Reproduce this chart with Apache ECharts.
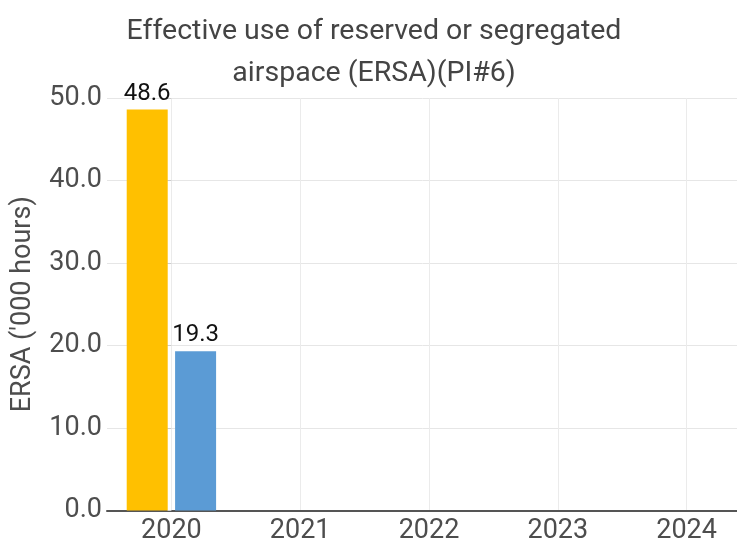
<!DOCTYPE html>
<html>
<head>
<meta charset="utf-8">
<script src="https://cdn.jsdelivr.net/npm/echarts@6/dist/echarts.min.js"></script>
<style>
  html, body { margin: 0; padding: 0; background: #fff; }
  #main { width: 737px; height: 542px; }
</style>
</head>
<body>
<div id="main"></div>
<script>
// data
var years = ['2020', '2021', '2022', '2023', '2024'];
var yellowValues = [48.6, '-', '-', '-', '-'];
var blueValues = [19.3, '-', '-', '-', '-'];
var yTicks = [0, 10, 20, 30, 40, 50];

var chart = echarts.init(document.getElementById('main'));

var option = {
  animation: false,
  textStyle: { fontFamily: 'Roboto' },
  title: {
    text: 'Effective use of reserved or segregated\nairspace (ERSA)(PI#6)',
    left: 369,
    top: 6,
    textAlign: 'center',
    textStyle: {
      fontFamily: 'Roboto',
      fontSize: 28.5,
      fontWeight: 'normal',
      color: '#444',
      lineHeight: 42
    }
  },
  grid: {
    left: 107, width: 644, top: 98, bottom: 31.5,
    containLabel: false,
    outerBoundsMode: 'none'
  },
  xAxis: [
    {
      type: 'category',
      data: years,
      boundaryGap: true,
      axisLine: { lineStyle: { color: '#555', width: 2 } },
      axisTick: { show: false },
      splitLine: { show: false },
      axisLabel: { fontSize: 27, color: '#4d4d4d', margin: 7 }
    },
    {
      // only draws the light vertical lines through each year
      type: 'value',
      min: -0.5,
      max: 4.5,
      position: 'bottom',
      axisLine: { show: false },
      axisTick: { show: false },
      axisLabel: { show: false },
      splitLine: {
        show: true,
        showMinLine: false,
        showMaxLine: false,
        lineStyle: { color: '#ebebeb', width: 1 }
      }
    }
  ],
  yAxis: {
    type: 'value',
    min: yTicks[0],
    max: yTicks[yTicks.length - 1],
    interval: 10,
    name: "ERSA ('000 hours)",
    nameLocation: 'middle',
    nameGap: 70,
    nameTextStyle: { fontSize: 27, color: '#4d4d4d' },
    axisLine: { show: false },
    axisTick: { show: true, length: 4, lineStyle: { color: '#ccc' } },
    axisLabel: {
      fontSize: 27,
      color: '#4d4d4d',
      margin: 5,
      formatter: function (v) { return v.toFixed(1); }
    },
    splitLine: { lineStyle: { color: '#e6e6e6', width: 1 } }
  },
  series: [
    {
      name: 'ERSA yellow',
      type: 'bar',
      xAxisIndex: 0,
      data: yellowValues,
      barWidth: 41,
      barGap: '18%',
      itemStyle: { color: '#FFC000' },
      label: {
        show: true,
        position: 'top',
        distance: 4,
        fontSize: 24,
        color: '#111',
        formatter: function (p) { return p.value.toFixed(1); }
      }
    },
    {
      name: 'ERSA blue',
      type: 'bar',
      xAxisIndex: 0,
      data: blueValues,
      barWidth: 41,
      barGap: '18%',
      itemStyle: { color: '#5B9BD5' },
      label: {
        show: true,
        position: 'top',
        distance: 4,
        fontSize: 24,
        color: '#111',
        formatter: function (p) { return p.value.toFixed(1); }
      }
    }
  ]
};

chart.setOption(option);
</script>
</body>
</html>
